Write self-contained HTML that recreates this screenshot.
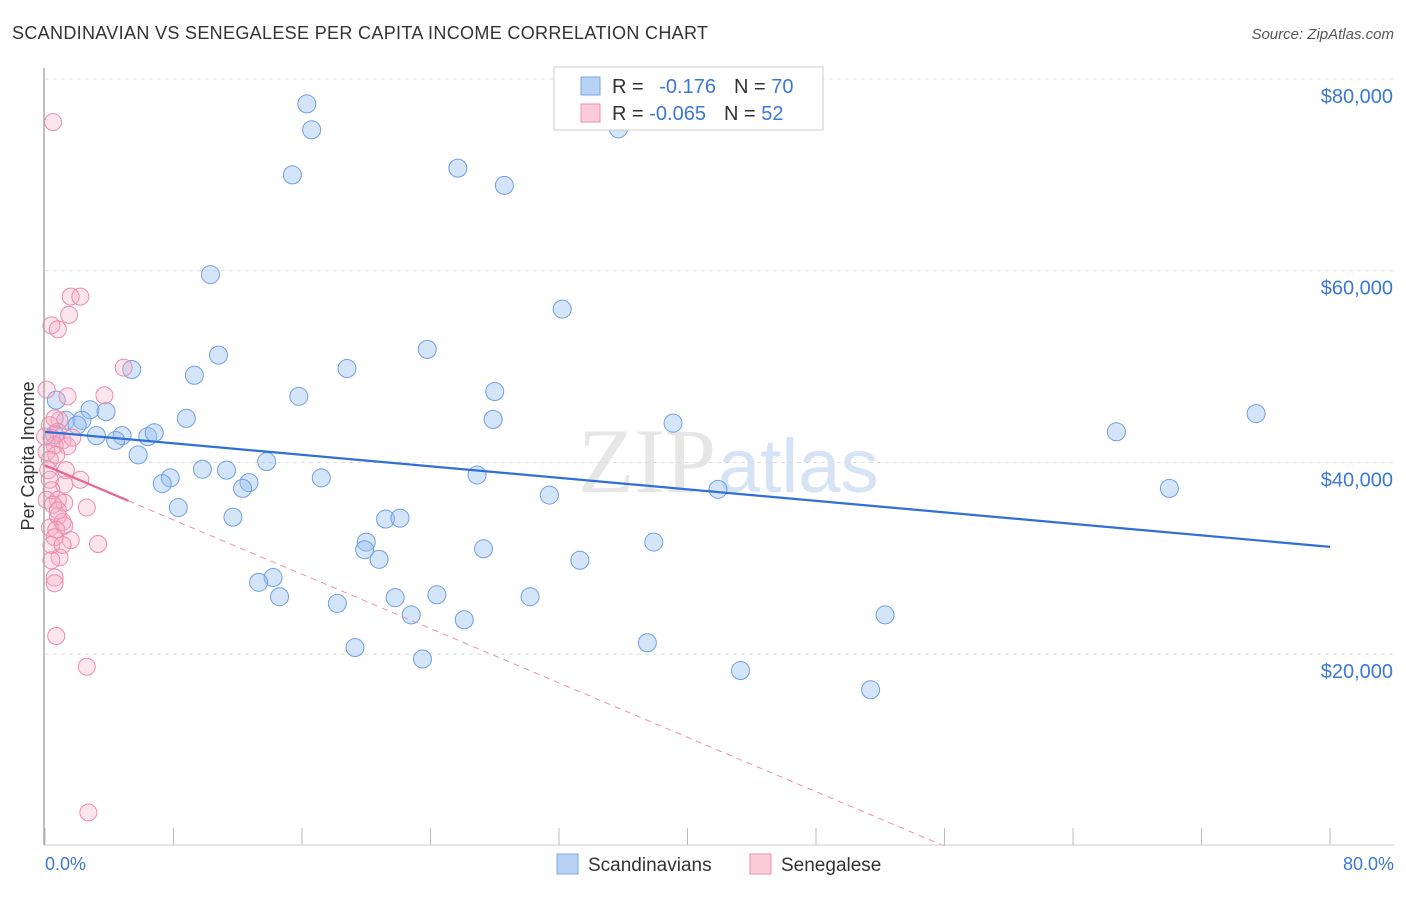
<!DOCTYPE html>
<html><head><meta charset="utf-8"><style>
body{margin:0;background:#fff;font-family:"Liberation Sans",sans-serif}
</style></head><body>
<svg id="c" width="1406" height="892" xmlns="http://www.w3.org/2000/svg">
<text x="12" y="39" font-size="18" fill="#333" textLength="696">SCANDINAVIAN VS SENEGALESE PER CAPITA INCOME CORRELATION CHART</text>
<text x="1394" y="39" font-size="15" fill="#555" font-style="italic" text-anchor="end">Source: ZipAtlas.com</text>
<text x="716" y="492" font-size="92" fill="#e6e6e6" text-anchor="end" font-family="Liberation Serif,serif">ZIP</text>
<text x="718" y="492" font-size="76" fill="#d5e3f5">atlas</text>
<text transform="translate(34,456) rotate(-90)" font-size="18" fill="#333" text-anchor="middle">Per Capita Income</text>
<g id="grid"></g><g id="ticks"></g><g id="pts"></g><g id="trend"></g>
<line x1="44" y1="68" x2="44" y2="845" stroke="#aaa" stroke-width="1.5"/>
<line x1="44" y1="845" x2="1394" y2="845" stroke="#ccc"/>
<text x="45" y="870" font-size="18" fill="#3a78d4">0.0%</text>
<text x="1394" y="870" font-size="18" fill="#3a78d4" text-anchor="end">80.0%</text>
<g>
<rect x="554" y="67" width="269" height="63" fill="#fff" stroke="#ccc"/>
<rect x="581" y="77" width="19" height="18" fill="#b7d2f5" stroke="#7aa7e0"/>
<rect x="581" y="104" width="19" height="18" fill="#fbcbd9" stroke="#f08db0"/>
<text x="612" y="93" font-size="20" fill="#333">R = <tspan fill="#3a78d4" dx="10">-0.176</tspan><tspan dx="18">N = </tspan><tspan fill="#3a78d4">70</tspan></text>
<text x="612" y="120" font-size="20" fill="#333">R = <tspan fill="#3a78d4">-0.065</tspan><tspan dx="18">N = </tspan><tspan fill="#3a78d4">52</tspan></text>
</g>
<g><rect x="557" y="854" width="21" height="20" fill="#b7d2f5" stroke="#7aa7e0"/><text x="588" y="871" font-size="19" fill="#333">Scandinavians</text></g>
<g><rect x="750" y="854" width="21" height="20" fill="#fbcbd9" stroke="#f08db0"/><text x="781" y="871" font-size="19" fill="#333">Senegalese</text></g>
</svg>
<script>
const yTicks=[20000,40000,60000,80000];
const yTickLabels=["$20,000","$40,000","$60,000","$80,000"];
const xTicks=[0,8,16,24,32,40,48,56,64,72,80];
const blueX=[16.3,16.6,35.7,15.4,25.7,28.6,10.3,32.2,10.8,23.8,5.4,18.8,9.3,15.8,28.0,0.7,2.8,3.8,1.3,2.3,8.8,27.9,39.1,2.0,3.2,4.8,6.4,6.8,4.4,5.8,13.8,9.8,11.3,7.8,17.2,26.9,7.3,12.7,12.3,41.9,31.4,8.3,11.7,21.2,22.1,20.0,19.9,27.3,37.9,20.8,33.3,14.2,13.3,14.6,21.8,24.4,30.2,18.2,22.8,26.1,52.3,19.3,37.5,23.5,43.3,51.4,66.7,75.4,70.0,0.6];
const blueY=[77.4,74.7,74.8,70.0,70.7,68.9,59.6,56.0,51.2,51.8,49.7,49.8,49.1,46.9,47.4,46.5,45.5,45.3,44.4,44.4,44.6,44.5,44.1,43.9,42.8,42.8,42.7,43.1,42.3,40.8,40.1,39.3,39.2,38.4,38.4,38.7,37.8,37.9,37.3,37.2,36.6,35.3,34.3,34.1,34.2,31.7,30.9,31.0,31.7,29.9,29.8,28.0,27.5,26.0,25.9,26.2,26.0,25.3,24.1,23.6,24.1,20.7,21.2,19.5,18.3,16.3,43.2,45.1,37.3,42.9];
const pinkX=[0.5,1.6,2.2,1.5,0.4,0.8,4.9,3.7,1.4,0.1,0.9,0.3,0.8,0.4,1.1,0.6,1.4,0.1,0.7,2.2,0.3,1.2,0.4,0.1,1.2,0.8,2.6,0.8,1.1,0.3,0.7,1.2,0.6,1.6,3.3,0.4,0.9,0.6,0.6,0.7,2.6,2.7,0.0,0.3,0.2,0.5,0.8,1.1,0.4,1.3,1.7,0.6];
const pinkY=[75.5,57.3,57.3,55.4,54.3,53.9,49.9,47.0,46.9,47.6,44.4,43.9,43.2,42.6,42.3,41.8,41.7,41.1,40.8,38.2,38.2,37.7,37.1,36.1,35.8,36.1,35.3,34.4,33.8,33.2,33.0,33.4,32.2,31.9,31.5,31.4,30.1,28.0,27.4,21.9,18.7,3.5,42.7,40.3,39.2,35.6,35.0,31.4,29.8,39.2,42.6,44.6];
const blueTrend=[[0,43.2],[80,31.2]];
const pinkTrendSolid=[[0,39.7],[5.2,36.0]];
const pinkTrendDash=[[5.2,36.0],[56,0]];
const NS="http://www.w3.org/2000/svg";
const sx=v=>45+v*1285/80, sy=v=>846-v*1000/104.3;
function mk(t,a,p){const e=document.createElementNS(NS,t);for(const k in a)e.setAttribute(k,a[k]);document.getElementById(p).appendChild(e);return e;}
yTicks.forEach((v,i)=>{
 const l=mk('line',{x1:45,x2:1394,y1:sy(v/1000),y2:sy(v/1000),stroke:'#ddd','stroke-dasharray':'4,4'},'grid');
 
 
 const t=mk('text',{x:1393,y:sy(v/1000)+24,'font-size':20,fill:'#3a78d4','text-anchor':'end'},'grid');t.textContent=yTickLabels[i];
 
 
});
xTicks.forEach(v=>{
 const l=mk('line',{x1:sx(v),x2:sx(v),y1:828,y2:845,stroke:'#bbb'},'ticks');
 
 
});
blueX.forEach((x,i)=>{
 const c=mk('circle',{cx:sx(x),cy:sy(blueY[i]),r:9,fill:'rgba(150,190,240,0.4)',stroke:'#6f9fe0','stroke-width':1},'pts');
 
 
});
pinkX.forEach((x,i)=>{
 const c=mk('circle',{cx:sx(x),cy:sy(pinkY[i]),r:8.5,fill:'rgba(245,170,195,0.3)',stroke:'#ee8aad','stroke-width':1},'pts');
 
 
});
function seg(p,a,n){const l=mk('line',Object.assign({x1:sx(p[0][0]),y1:sy(p[0][1]),x2:sx(p[1][0]),y2:sy(p[1][1])},a),'trend');
 
 }
seg(blueTrend,{stroke:'#2f6fd6','stroke-width':2.2},'scandinavian-trendline');
seg(pinkTrendSolid,{stroke:'#e5668f','stroke-width':2.2},'senegalese-trendline');
seg(pinkTrendDash,{stroke:'#eb90b0','stroke-width':1,'stroke-dasharray':'6,5'},'senegalese-trendline-extension');
</script>
</body></html>
